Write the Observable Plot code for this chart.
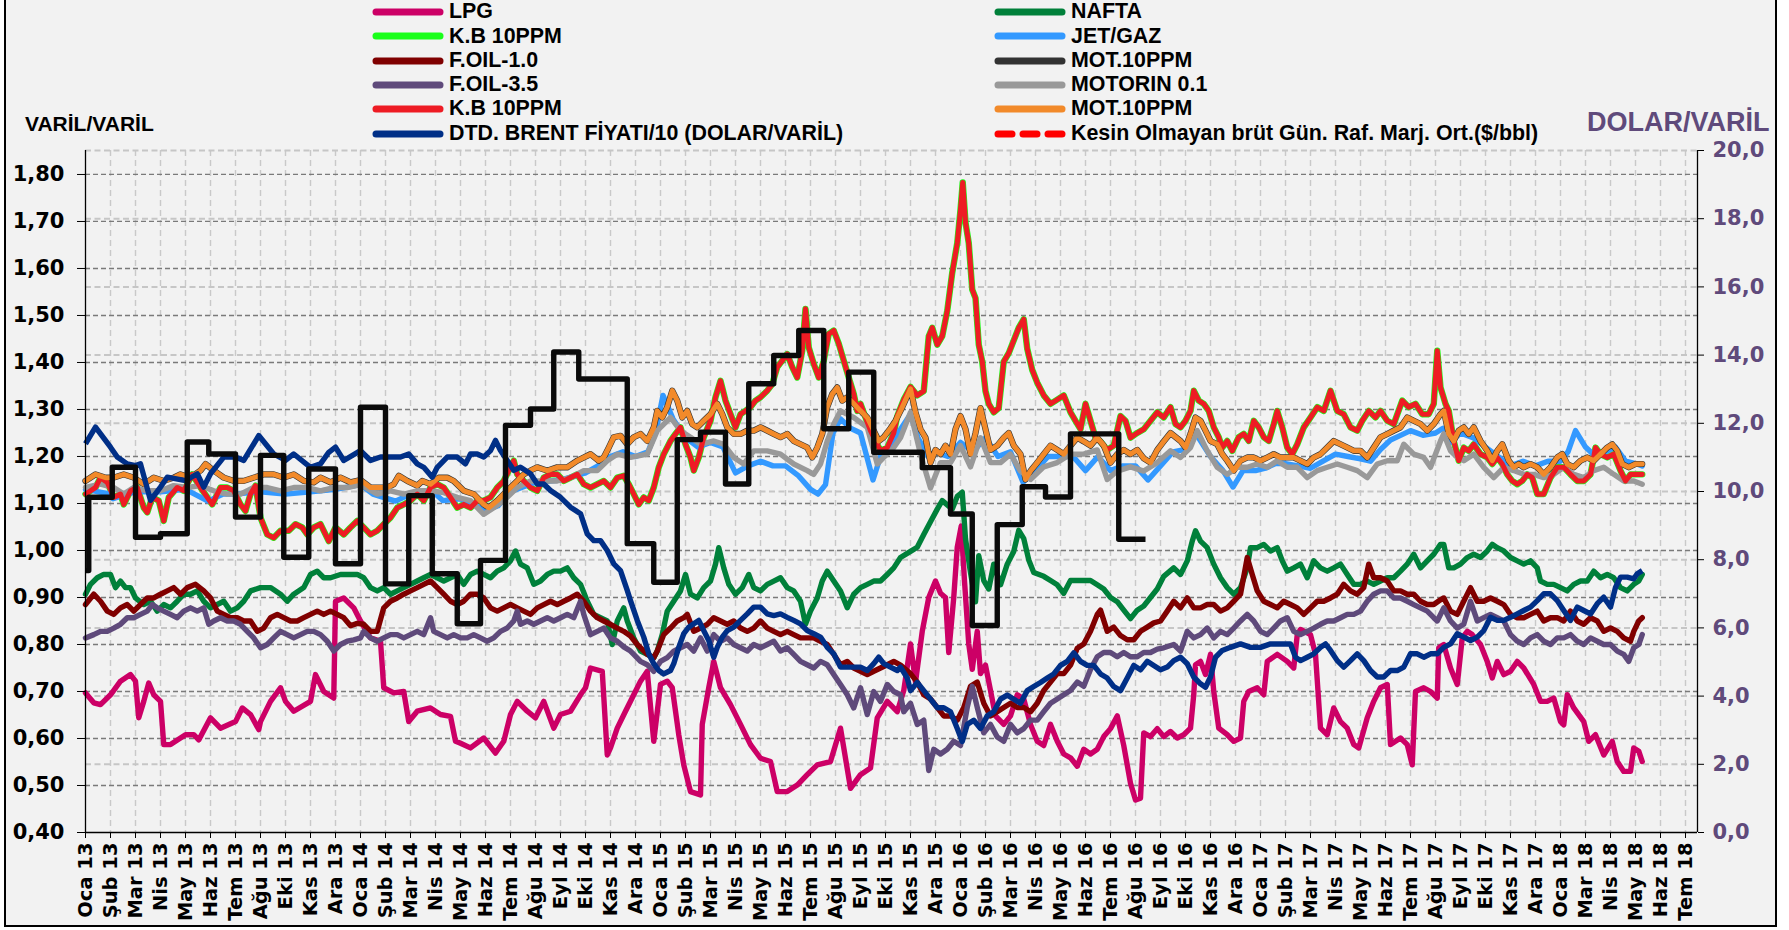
<!DOCTYPE html>
<html><head><meta charset="utf-8">
<script src="https://cdn.jsdelivr.net/npm/d3@7"></script>
<script src="https://cdn.jsdelivr.net/npm/@observablehq/plot@0.6"></script>
<style>
body{margin:0;background:#fff;}
#wrap{position:relative;width:1789px;height:930px;overflow:hidden;font-family:"DejaVu Sans",sans-serif;}
#frame{position:absolute;left:4px;top:-4px;width:1773px;height:931px;box-sizing:border-box;border:2px solid #000;background:#f2f2f2;}
#clip{position:absolute;left:0;top:0;width:1789px;height:925px;overflow:hidden;}
.lg{position:absolute;display:flex;align-items:center;font-family:"Liberation Sans Narrow","Arial Narrow",sans-serif;font-weight:bold;font-size:21.4px;color:#000;white-space:nowrap;line-height:1;}
.ttl{position:absolute;font-family:"Liberation Sans Narrow","Arial Narrow",sans-serif;font-weight:bold;white-space:nowrap;line-height:1;}
</style></head>
<body><div id="wrap"><div id="frame"></div><div id="clip"></div></div>
<script>
// ---------- tick labels ----------
const xLabels = ["Oca 13","Şub 13","Mar 13","Nis 13","May 13","Haz 13","Tem 13","Ağu 13","Eki 13","Kas 13","Ara 13",
"Oca 14","Şub 14","Mar 14","Nis 14","May 14","Haz 14","Tem 14","Ağu 14","Eyl 14","Eki 14","Kas 14","Ara 14",
"Oca 15","Şub 15","Mar 15","Nis 15","May 15","Haz 15","Tem 15","Ağu 15","Eyl 15","Eki 15","Kas 15","Ara 15",
"Oca 16","Şub 16","Mar 16","Nis 16","May 16","Haz 16","Tem 16","Ağu 16","Eyl 16","Eki 16","Kas 16","Ara 16",
"Oca 17","Şub 17","Mar 17","Nis 17","May 17","Haz 17","Tem 17","Ağu 17","Eyl 17","Eki 17","Kas 17","Ara 17",
"Oca 18","Mar 18","Nis 18","May 18","Haz 18","Tem 18"];
const leftTicks = [0.4,0.5,0.6,0.7,0.8,0.9,1.0,1.1,1.2,1.3,1.4,1.5,1.6,1.7,1.8];
const rightTicks = [0,2,4,6,8,10,12,14,16,18,20];

// ---------- series (x = position in tick-label units, value) ----------
const LPG = [[0,0.697],[0.33,0.676],[0.6,0.672],[1,0.693],[1.4,0.722],[1.8,0.736],[2,0.722],[2.13,0.644],[2.33,0.679],[2.53,0.718],[2.73,0.693],[3,0.679],[3.13,0.587],[3.4,0.587],[4,0.608],[4.33,0.608],[4.53,0.597],[5,0.644],[5.4,0.622],[6,0.636],[6.27,0.665],[6.6,0.651],[6.93,0.619],[7,0.636],[7.4,0.679],[7.8,0.708],[8,0.679],[8.33,0.658],[9,0.679],[9.2,0.736],[9.53,0.700],[9.93,0.686],[10,0.892],[10.33,0.899],[10.73,0.878],[11,0.85],[11.4,0.814],[11.8,0.807],[11.93,0.708],[12.33,0.697],[12.73,0.700],[12.93,0.636],[13.27,0.658],[13.8,0.665],[14.2,0.651],[14.6,0.647],[14.8,0.594],[15,0.590],[15.4,0.580],[15.93,0.601],[16.4,0.569],[16.73,0.594],[17,0.651],[17.27,0.679],[17.67,0.658],[18,0.644],[18.33,0.679],[18.73,0.622],[19,0.651],[19.4,0.658],[19.8,0.693],[20,0.708],[20.2,0.750],[20.67,0.743],[20.87,0.565],[21,0.580],[21.27,0.622],[21.6,0.658],[21.93,0.693],[22.2,0.722],[22.47,0.743],[22.73,0.594],[23,0.715],[23.27,0.722],[23.47,0.708],[23.73,0.608],[23.93,0.544],[24.2,0.487],[24.6,0.480],[24.67,0.630],[24.93,0.708],[25.13,0.764],[25.4,0.708],[25.8,0.672],[26.2,0.630],[26.6,0.587],[27,0.558],[27.4,0.551],[27.67,0.487],[28.07,0.487],[28.47,0.501],[28.87,0.523],[29.27,0.544],[29.8,0.551],[30.2,0.622],[30.6,0.494],[31,0.523],[31.4,0.537],[31.67,0.644],[32.07,0.679],[32.47,0.657],[32.73,0.702],[33,0.801],[33.2,0.720],[33.47,0.828],[33.73,0.900],[34,0.935],[34.2,0.909],[34.4,0.900],[34.53,0.783],[34.73,0.900],[34.87,1.007],[35.03,1.052],[35.16,0.935],[35.33,0.801],[35.47,0.747],[35.67,0.828],[35.8,0.738],[36,0.756],[36.2,0.702],[36.4,0.648],[36.73,0.630],[37,0.648],[37.27,0.693],[37.53,0.684],[37.8,0.630],[38.07,0.594],[38.33,0.585],[38.6,0.630],[38.87,0.594],[39.13,0.567],[39.4,0.559],[39.67,0.541],[39.93,0.577],[40.2,0.567],[40.47,0.577],[40.73,0.604],[41,0.621],[41.27,0.648],[41.53,0.585],[41.8,0.505],[42,0.469],[42.2,0.473],[42.33,0.612],[42.6,0.604],[42.87,0.621],[43.13,0.604],[43.4,0.615],[43.67,0.601],[43.93,0.608],[44.2,0.622],[44.33,0.693],[44.4,0.757],[44.6,0.764],[44.8,0.736],[45,0.779],[45.13,0.700],[45.33,0.622],[45.67,0.608],[45.93,0.594],[46.2,0.601],[46.33,0.679],[46.53,0.700],[46.87,0.708],[47.13,0.693],[47.27,0.764],[47.67,0.779],[48.07,0.764],[48.33,0.750],[48.47,0.821],[48.6,0.832],[49,0.821],[49.2,0.779],[49.4,0.622],[49.67,0.608],[49.93,0.665],[50.2,0.636],[50.47,0.622],[50.73,0.587],[50.93,0.580],[51.27,0.644],[51.53,0.679],[51.8,0.708],[52.07,0.715],[52.2,0.587],[52.6,0.601],[52.87,0.587],[53.07,0.544],[53.2,0.700],[53.53,0.708],[53.8,0.700],[54.07,0.686],[54.13,0.793],[54.33,0.800],[54.6,0.750],[54.87,0.715],[55.07,0.814],[55.27,0.828],[55.47,0.821],[55.8,0.800],[56.07,0.764],[56.27,0.729],[56.47,0.764],[56.73,0.736],[57,0.743],[57.27,0.764],[57.53,0.750],[57.93,0.715],[58.2,0.679],[58.47,0.679],[58.73,0.686],[59,0.636],[59.13,0.629],[59.27,0.693],[59.53,0.665],[59.93,0.636],[60.13,0.594],[60.4,0.608],[60.73,0.565],[61.07,0.594],[61.27,0.551],[61.53,0.530],[61.8,0.530],[61.93,0.580],[62.13,0.573],[62.27,0.551]];

const NAFTA = [[0,0.907],[0.2,0.928],[0.47,0.942],[0.73,0.949],[1,0.949],[1.2,0.921],[1.4,0.935],[1.6,0.921],[1.8,0.921],[2,0.899],[2.33,0.885],[2.6,0.892],[2.87,0.871],[3.13,0.885],[3.4,0.878],[3.67,0.892],[3.93,0.907],[4.2,0.907],[4.47,0.914],[4.73,0.892],[5,0.878],[5.27,0.885],[5.53,0.892],[5.8,0.871],[6.07,0.878],[6.33,0.892],[6.6,0.914],[7,0.921],[7.4,0.921],[7.8,0.907],[8.07,0.892],[8.33,0.907],[8.73,0.921],[9,0.949],[9.27,0.956],[9.53,0.942],[9.8,0.942],[10.2,0.949],[10.6,0.949],[10.87,0.949],[11.13,0.942],[11.4,0.921],[11.67,0.914],[11.93,0.921],[12.2,0.907],[12.47,0.914],[12.73,0.921],[13,0.928],[13.27,0.935],[13.53,0.942],[13.8,0.949],[14.07,0.942],[14.33,0.935],[14.6,0.942],[14.87,0.949],[15.13,0.928],[15.4,0.949],[15.67,0.956],[15.93,0.949],[16.2,0.942],[16.47,0.956],[16.73,0.963],[17,0.978],[17.2,0.999],[17.4,0.971],[17.67,0.963],[17.93,0.928],[18.2,0.935],[18.47,0.949],[18.73,0.956],[19,0.956],[19.27,0.963],[19.53,0.942],[19.8,0.928],[20.07,0.892],[20.33,0.864],[20.6,0.857],[20.87,0.850],[21.07,0.800],[21.27,0.850],[21.53,0.878],[21.67,0.850],[21.93,0.814],[22.2,0.786],[22.47,0.779],[22.73,0.772],[22.87,0.786],[23.07,0.821],[23.27,0.871],[23.53,0.892],[23.8,0.914],[24,0.949],[24.2,0.907],[24.47,0.899],[24.73,0.921],[25,0.935],[25.2,0.971],[25.33,1.006],[25.53,0.963],[25.73,0.928],[26,0.907],[26.27,0.921],[26.53,0.949],[26.73,0.921],[27,0.914],[27.27,0.928],[27.53,0.935],[27.8,0.942],[28.07,0.921],[28.33,0.914],[28.6,0.892],[28.8,0.843],[29,0.871],[29.27,0.899],[29.47,0.935],[29.67,0.956],[29.93,0.935],[30.2,0.914],[30.47,0.878],[30.73,0.907],[31,0.921],[31.27,0.928],[31.53,0.935],[31.8,0.935],[32.07,0.949],[32.33,0.963],[32.6,0.985],[33,0.998],[33.27,1.007],[33.53,1.034],[33.8,1.061],[34.07,1.088],[34.27,1.106],[34.47,1.097],[34.67,1.088],[34.87,1.115],[35.07,1.124],[35.2,1.025],[35.4,0.953],[35.6,0.891],[35.73,0.989],[35.93,0.936],[36.13,0.918],[36.33,0.971],[36.6,0.927],[36.87,0.971],[37.13,0.998],[37.33,1.043],[37.53,1.025],[37.73,0.980],[37.93,0.953],[38.33,0.945],[38.6,0.936],[38.87,0.927],[39.13,0.909],[39.4,0.936],[39.67,0.936],[39.93,0.936],[40.2,0.936],[40.47,0.927],[40.73,0.918],[41,0.900],[41.27,0.891],[41.53,0.873],[41.8,0.855],[42.07,0.873],[42.33,0.882],[42.6,0.900],[42.87,0.918],[43.13,0.945],[43.53,0.963],[43.8,0.949],[44.07,0.978],[44.27,1.020],[44.4,1.042],[44.6,1.020],[44.87,1.006],[45.13,0.971],[45.4,0.942],[45.67,0.921],[45.93,0.907],[46.2,0.921],[46.47,0.963],[46.6,1.006],[46.87,1.006],[47.13,1.013],[47.4,0.999],[47.67,1.006],[47.87,0.978],[48.07,0.956],[48.33,0.963],[48.6,0.971],[48.87,0.942],[49.13,0.978],[49.4,0.963],[49.67,0.956],[49.93,0.963],[50.2,0.971],[50.47,0.949],[50.73,0.928],[51,0.928],[51.27,0.935],[51.53,0.928],[51.8,0.935],[52.07,0.942],[52.33,0.942],[52.6,0.956],[52.87,0.971],[53.13,0.992],[53.4,0.963],[53.67,0.978],[53.93,0.992],[54.2,1.013],[54.33,1.013],[54.53,0.963],[54.73,0.963],[55,0.971],[55.27,0.985],[55.53,0.992],[55.8,0.985],[56.07,0.999],[56.27,1.013],[56.47,1.006],[56.73,0.999],[57,0.985],[57.27,0.978],[57.53,0.971],[57.8,0.978],[58.07,0.963],[58.2,0.935],[58.47,0.928],[58.73,0.928],[59,0.921],[59.27,0.914],[59.53,0.928],[59.8,0.935],[60.07,0.935],[60.33,0.956],[60.6,0.942],[60.87,0.949],[61.13,0.942],[61.4,0.921],[61.67,0.914],[61.93,0.928],[62.13,0.935],[62.27,0.949]];

const KB = [[0,1.120],[0.2,1.127],[0.4,1.134],[0.6,1.155],[0.87,1.145],[1.13,1.113],[1.4,1.120],[1.53,1.098],[1.8,1.127],[2.07,1.134],[2.33,1.091],[2.47,1.081],[2.67,1.113],[2.93,1.106],[3.13,1.063],[3.33,1.113],[3.67,1.134],[3.93,1.127],[4.27,1.162],[4.6,1.134],[4.87,1.113],[5.07,1.098],[5.4,1.134],[5.67,1.134],[5.93,1.127],[6.2,1.098],[6.4,1.084],[6.6,1.120],[6.8,1.138],[7,1.070],[7.27,1.034],[7.53,1.027],[7.8,1.042],[8.13,1.042],[8.4,1.056],[8.67,1.049],[8.87,1.034],[9.13,1.049],[9.4,1.056],[9.73,1.020],[10,1.049],[10.33,1.034],[10.6,1.049],[10.87,1.063],[11.13,1.049],[11.4,1.034],[11.67,1.042],[11.93,1.056],[12.2,1.070],[12.47,1.091],[12.73,1.098],[13,1.106],[13.27,1.120],[13.53,1.106],[13.8,1.134],[14.07,1.141],[14.33,1.134],[14.6,1.113],[14.87,1.091],[15.13,1.098],[15.4,1.091],[15.67,1.106],[15.93,1.106],[16.2,1.113],[16.47,1.134],[16.73,1.148],[16.93,1.170],[17.13,1.191],[17.27,1.162],[17.53,1.148],[17.8,1.134],[18.07,1.127],[18.33,1.155],[18.6,1.162],[18.87,1.162],[19.13,1.148],[19.4,1.155],[19.67,1.162],[19.93,1.141],[20.2,1.134],[20.47,1.141],[20.73,1.148],[21,1.134],[21.27,1.155],[21.53,1.159],[21.73,1.141],[21.93,1.120],[22.13,1.098],[22.33,1.113],[22.53,1.106],[22.73,1.134],[22.93,1.177],[23.13,1.205],[23.4,1.233],[23.6,1.248],[23.8,1.262],[24,1.226],[24.2,1.198],[24.33,1.170],[24.53,1.198],[24.73,1.241],[25,1.276],[25.2,1.326],[25.4,1.361],[25.6,1.319],[25.8,1.290],[26,1.262],[26.2,1.290],[26.4,1.297],[26.6,1.305],[26.8,1.319],[27,1.326],[27.27,1.340],[27.47,1.354],[27.67,1.390],[27.87,1.404],[28.07,1.418],[28.27,1.390],[28.47,1.368],[28.67,1.425],[28.8,1.514],[28.93,1.432],[29.13,1.397],[29.33,1.368],[29.53,1.404],[29.73,1.461],[29.93,1.468],[30.13,1.440],[30.33,1.404],[30.53,1.368],[30.73,1.333],[30.87,1.297],[31,1.312],[31.2,1.283],[31.4,1.255],[31.6,1.233],[31.8,1.212],[32.07,1.219],[32.33,1.250],[32.47,1.286],[32.73,1.321],[33,1.348],[33.27,1.330],[33.53,1.339],[33.73,1.456],[33.87,1.474],[34.07,1.438],[34.27,1.456],[34.47,1.510],[34.67,1.591],[34.87,1.654],[35,1.725],[35.09,1.783],[35.2,1.698],[35.33,1.654],[35.47,1.555],[35.6,1.537],[35.73,1.438],[35.87,1.402],[36,1.339],[36.13,1.312],[36.33,1.294],[36.53,1.303],[36.73,1.402],[36.93,1.420],[37.13,1.447],[37.33,1.474],[37.53,1.492],[37.67,1.429],[37.87,1.384],[38.07,1.357],[38.33,1.330],[38.6,1.312],[38.87,1.321],[39.13,1.330],[39.4,1.294],[39.6,1.276],[39.8,1.258],[40,1.312],[40.2,1.276],[40.4,1.240],[40.6,1.232],[40.87,1.214],[41.13,1.223],[41.4,1.286],[41.6,1.276],[41.8,1.240],[42.07,1.250],[42.33,1.258],[42.6,1.276],[42.87,1.294],[43.13,1.283],[43.4,1.305],[43.6,1.269],[43.8,1.262],[44,1.276],[44.2,1.297],[44.33,1.340],[44.53,1.319],[44.73,1.312],[44.93,1.297],[45.13,1.262],[45.33,1.241],[45.47,1.219],[45.67,1.233],[45.87,1.212],[46.13,1.241],[46.33,1.248],[46.53,1.233],[46.73,1.276],[46.93,1.262],[47.13,1.241],[47.33,1.233],[47.53,1.269],[47.67,1.297],[47.87,1.262],[48.07,1.219],[48.27,1.205],[48.47,1.226],[48.73,1.262],[49,1.283],[49.27,1.305],[49.53,1.297],[49.8,1.340],[50.07,1.297],[50.33,1.290],[50.6,1.262],[50.87,1.255],[51.07,1.276],[51.33,1.297],[51.6,1.283],[51.8,1.297],[52.07,1.276],[52.33,1.269],[52.67,1.319],[52.93,1.305],[53.2,1.312],[53.47,1.290],[53.73,1.290],[53.93,1.312],[54.07,1.425],[54.2,1.347],[54.4,1.312],[54.53,1.297],[54.73,1.233],[54.93,1.191],[55.13,1.219],[55.33,1.212],[55.53,1.226],[55.8,1.205],[56.07,1.198],[56.27,1.184],[56.47,1.198],[56.67,1.184],[56.87,1.162],[57.07,1.148],[57.27,1.141],[57.47,1.148],[57.67,1.162],[57.87,1.155],[58.07,1.120],[58.33,1.120],[58.6,1.155],[58.87,1.177],[59.13,1.177],[59.4,1.162],[59.67,1.148],[59.93,1.148],[60.2,1.162],[60.4,1.219],[60.6,1.205],[60.87,1.198],[61.13,1.205],[61.4,1.170],[61.6,1.148],[61.8,1.162],[62.07,1.162],[62.27,1.162]];

const JET = [[0,1.13],[1,1.12],[1.1,1.11],[2,1.125],[3,1.125],[4,1.13],[4.9,1.105],[5.5,1.12],[6,1.12],[7,1.125],[8,1.12],[9,1.125],[10,1.13],[11,1.14],[11.5,1.12],[12.4,1.105],[13,1.12],[14,1.12],[14.3,1.106],[15,1.11],[16,1.085],[16.5,1.095],[17,1.125],[18,1.145],[19,1.15],[20,1.165],[20.5,1.18],[21,1.20],[21.5,1.21],[22,1.20],[22.5,1.21],[22.8,1.25],[23.1,1.33],[23.5,1.28],[24,1.24],[24.5,1.22],[25,1.23],[25.5,1.22],[26,1.165],[26.5,1.18],[27,1.19],[27.5,1.18],[28,1.18],[28.5,1.16],[29,1.13],[29.3,1.12],[29.6,1.14],[29.9,1.25],[30.2,1.28],[30.6,1.26],[31,1.25],[31.5,1.15],[31.8,1.2],[32.2,1.22],[32.5,1.25],[33,1.29],[33.3,1.24],[33.7,1.2],[34,1.21],[34.5,1.2],[35,1.23],[35.5,1.21],[36,1.24],[36.5,1.2],[37,1.21],[37.5,1.145],[38,1.17],[38.5,1.2],[39,1.2],[39.5,1.2],[40,1.17],[40.5,1.2],[41,1.17],[41.5,1.18],[42,1.18],[42.5,1.15],[43,1.18],[43.5,1.21],[44,1.215],[44.4,1.25],[45,1.2],[45.5,1.17],[45.9,1.135],[46.3,1.17],[46.8,1.17],[47.2,1.175],[47.6,1.185],[48,1.185],[48.5,1.18],[49,1.175],[49.5,1.19],[50,1.205],[50.5,1.20],[51,1.195],[51.4,1.19],[51.8,1.215],[52.2,1.235],[52.6,1.245],[53,1.255],[53.5,1.245],[54,1.25],[54.3,1.26],[54.6,1.23],[55,1.25],[55.5,1.24],[56,1.22],[56.5,1.2],[57,1.18],[57.5,1.19],[58,1.18],[58.5,1.19],[59,1.19],[59.3,1.21],[59.6,1.255],[60,1.22],[60.4,1.2],[60.8,1.21],[61.2,1.22],[61.6,1.19],[62,1.185],[62.27,1.18]];

const FOIL10 = [[0,0.885],[0.33,0.907],[0.6,0.892],[0.87,0.871],[1.13,0.864],[1.4,0.878],[1.67,0.885],[1.93,0.871],[2.2,0.885],[2.47,0.899],[2.73,0.899],[3,0.907],[3.27,0.914],[3.53,0.921],[3.8,0.907],[4.07,0.921],[4.4,0.928],[4.73,0.914],[5,0.899],[5.27,0.871],[5.53,0.864],[5.8,0.857],[6.07,0.857],[6.33,0.850],[6.6,0.850],[6.87,0.828],[7.13,0.835],[7.4,0.857],[7.67,0.864],[7.93,0.857],[8.2,0.850],[8.47,0.850],[8.73,0.857],[9,0.864],[9.27,0.871],[9.53,0.864],[9.8,0.871],[10.07,0.864],[10.33,0.857],[10.6,0.840],[10.87,0.845],[11.13,0.843],[11.4,0.828],[11.67,0.828],[11.93,0.878],[12.2,0.892],[12.47,0.899],[12.73,0.907],[13,0.914],[13.27,0.921],[13.53,0.928],[13.8,0.935],[14.07,0.921],[14.33,0.907],[14.6,0.892],[14.87,0.885],[15.13,0.892],[15.4,0.907],[15.67,0.907],[15.93,0.899],[16.2,0.878],[16.47,0.871],[16.73,0.878],[17,0.885],[17.27,0.878],[17.53,0.871],[17.8,0.864],[18.07,0.878],[18.33,0.885],[18.6,0.892],[18.87,0.885],[19.13,0.892],[19.4,0.899],[19.67,0.907],[19.93,0.892],[20.2,0.871],[20.47,0.857],[20.73,0.850],[21,0.843],[21.27,0.835],[21.53,0.828],[21.8,0.818],[22.07,0.800],[22.47,0.779],[22.73,0.772],[22.87,0.786],[23.13,0.821],[23.4,0.835],[23.67,0.850],[23.93,0.857],[24.07,0.864],[24.33,0.828],[24.6,0.835],[24.87,0.843],[25.13,0.857],[25.4,0.850],[25.67,0.843],[25.93,0.850],[26.2,0.835],[26.47,0.828],[26.73,0.835],[27,0.850],[27.27,0.835],[27.53,0.828],[27.8,0.821],[28.07,0.828],[28.33,0.821],[28.6,0.814],[28.87,0.814],[29.13,0.814],[29.4,0.807],[29.67,0.800],[29.93,0.779],[30.2,0.757],[30.47,0.764],[30.73,0.750],[31,0.743],[31.27,0.736],[31.53,0.743],[31.8,0.750],[32.07,0.757],[32.33,0.764],[32.6,0.756],[33,0.738],[33.27,0.720],[33.53,0.693],[33.8,0.684],[34.07,0.666],[34.33,0.648],[34.6,0.648],[34.87,0.639],[35.13,0.666],[35.4,0.711],[35.67,0.720],[35.93,0.675],[36.2,0.648],[36.47,0.657],[36.73,0.666],[37,0.675],[37.27,0.666],[37.53,0.666],[37.8,0.657],[38.07,0.675],[38.33,0.702],[38.6,0.720],[38.87,0.738],[39.13,0.738],[39.4,0.756],[39.67,0.792],[39.93,0.801],[40.2,0.828],[40.47,0.864],[40.6,0.873],[40.87,0.828],[41.13,0.837],[41.4,0.819],[41.67,0.810],[41.93,0.810],[42.2,0.828],[42.47,0.837],[42.73,0.846],[43,0.850],[43.27,0.871],[43.53,0.892],[43.8,0.878],[44.07,0.899],[44.33,0.878],[44.6,0.878],[44.87,0.885],[45.13,0.885],[45.4,0.871],[45.67,0.878],[45.93,0.892],[46.2,0.907],[46.47,0.985],[46.67,0.949],[46.87,0.914],[47.13,0.892],[47.4,0.885],[47.67,0.878],[47.93,0.892],[48.2,0.885],[48.47,0.878],[48.73,0.864],[49,0.878],[49.27,0.892],[49.53,0.892],[49.8,0.899],[50.07,0.907],[50.33,0.928],[50.6,0.914],[50.87,0.907],[51.13,0.921],[51.33,0.971],[51.53,0.942],[51.8,0.942],[52.07,0.935],[52.33,0.914],[52.6,0.914],[52.87,0.907],[53.13,0.907],[53.4,0.892],[53.67,0.885],[53.93,0.885],[54.2,0.895],[54.33,0.899],[54.6,0.871],[54.87,0.864],[55.13,0.892],[55.4,0.921],[55.67,0.892],[55.93,0.892],[56.2,0.899],[56.47,0.892],[56.73,0.885],[57,0.864],[57.27,0.857],[57.53,0.857],[57.8,0.864],[58.07,0.871],[58.33,0.850],[58.6,0.857],[58.87,0.857],[59.13,0.850],[59.4,0.871],[59.67,0.850],[59.93,0.843],[60.2,0.857],[60.47,0.850],[60.73,0.828],[61,0.835],[61.27,0.828],[61.53,0.814],[61.8,0.807],[61.93,0.828],[62.13,0.850],[62.27,0.857]];

const FOIL35 = [[0,0.814],[0.33,0.821],[0.6,0.828],[0.87,0.828],[1.13,0.835],[1.4,0.843],[1.67,0.857],[1.93,0.857],[2.2,0.864],[2.47,0.871],[2.67,0.885],[2.87,0.878],[3.13,0.871],[3.4,0.864],[3.67,0.857],[3.93,0.871],[4.2,0.878],[4.47,0.871],[4.73,0.878],[4.93,0.843],[5.13,0.850],[5.4,0.857],[5.67,0.850],[5.93,0.850],[6.2,0.843],[6.47,0.828],[6.73,0.814],[7,0.793],[7.27,0.800],[7.53,0.814],[7.8,0.828],[8.07,0.821],[8.33,0.814],[8.6,0.821],[8.87,0.828],[9.13,0.828],[9.4,0.821],[9.67,0.807],[9.93,0.786],[10.2,0.800],[10.47,0.807],[10.73,0.810],[11,0.814],[11.13,0.828],[11.4,0.814],[11.67,0.807],[11.93,0.814],[12.2,0.821],[12.47,0.821],[12.73,0.814],[13,0.821],[13.27,0.828],[13.53,0.821],[13.8,0.857],[13.93,0.828],[14.2,0.821],[14.47,0.814],[14.73,0.821],[15,0.814],[15.27,0.814],[15.53,0.821],[15.8,0.814],[16.07,0.807],[16.33,0.814],[16.6,0.828],[16.87,0.835],[17.13,0.850],[17.27,0.871],[17.4,0.843],[17.67,0.850],[17.93,0.843],[18.2,0.850],[18.47,0.857],[18.73,0.850],[19,0.857],[19.27,0.864],[19.53,0.857],[19.8,0.892],[19.93,0.864],[20.2,0.821],[20.47,0.828],[20.73,0.835],[21,0.814],[21.27,0.807],[21.53,0.795],[21.8,0.786],[21.93,0.779],[22.2,0.764],[22.47,0.757],[22.73,0.743],[23,0.764],[23.27,0.772],[23.53,0.786],[23.8,0.793],[24.07,0.800],[24.33,0.786],[24.6,0.814],[24.87,0.786],[25.13,0.821],[25.4,0.807],[25.67,0.814],[25.93,0.800],[26.2,0.793],[26.47,0.786],[26.73,0.800],[27,0.793],[27.27,0.800],[27.53,0.807],[27.8,0.786],[28.07,0.793],[28.33,0.779],[28.6,0.764],[28.87,0.757],[29.13,0.750],[29.4,0.764],[29.67,0.757],[29.93,0.736],[30.2,0.715],[30.47,0.693],[30.73,0.665],[31,0.708],[31.27,0.651],[31.53,0.700],[31.8,0.679],[32.07,0.715],[32.33,0.700],[32.6,0.693],[32.73,0.657],[33,0.675],[33.27,0.630],[33.53,0.639],[33.73,0.532],[33.93,0.577],[34.2,0.567],[34.47,0.577],[34.73,0.594],[35,0.585],[35.27,0.666],[35.47,0.711],[35.67,0.666],[35.93,0.612],[36.2,0.630],[36.47,0.603],[36.73,0.594],[37,0.630],[37.27,0.612],[37.53,0.621],[37.8,0.639],[38.07,0.639],[38.33,0.657],[38.6,0.675],[38.87,0.684],[39.13,0.693],[39.4,0.702],[39.67,0.720],[39.93,0.711],[40.2,0.747],[40.47,0.774],[40.73,0.783],[41,0.783],[41.27,0.774],[41.53,0.783],[41.8,0.774],[42.07,0.774],[42.33,0.783],[42.6,0.783],[42.87,0.790],[43.13,0.793],[43.53,0.800],[43.8,0.786],[44.07,0.828],[44.33,0.814],[44.6,0.821],[44.87,0.835],[45.13,0.814],[45.4,0.828],[45.67,0.821],[45.93,0.835],[46.2,0.850],[46.47,0.864],[46.73,0.850],[47,0.828],[47.27,0.821],[47.53,0.835],[47.8,0.850],[48.07,0.857],[48.33,0.828],[48.6,0.821],[48.87,0.828],[49.13,0.835],[49.4,0.843],[49.67,0.850],[49.93,0.850],[50.2,0.857],[50.47,0.864],[50.73,0.864],[51,0.871],[51.27,0.892],[51.53,0.907],[51.8,0.914],[52.07,0.914],[52.33,0.899],[52.6,0.899],[52.87,0.892],[53.13,0.885],[53.4,0.878],[53.67,0.871],[53.93,0.857],[54.07,0.850],[54.33,0.878],[54.6,0.850],[54.87,0.835],[55.13,0.843],[55.4,0.892],[55.67,0.850],[55.93,0.857],[56.2,0.864],[56.47,0.857],[56.73,0.850],[57,0.821],[57.27,0.807],[57.53,0.800],[57.8,0.814],[58.07,0.821],[58.33,0.807],[58.6,0.800],[58.87,0.814],[59.13,0.814],[59.4,0.821],[59.67,0.807],[59.93,0.800],[60.2,0.814],[60.47,0.807],[60.73,0.800],[61,0.800],[61.27,0.786],[61.53,0.779],[61.73,0.764],[61.93,0.793],[62.13,0.800],[62.27,0.821]];

const MOTORIN01 = [[0,1.134],[0.6,1.141],[1.13,1.134],[1.53,1.120],[1.93,1.134],[2.47,1.127],[3,1.127],[3.53,1.138],[4.07,1.134],[4.6,1.138],[5.13,1.127],[5.67,1.120],[6.2,1.120],[6.73,1.134],[7.27,1.134],[7.8,1.127],[8.33,1.134],[8.87,1.134],[9.4,1.127],[9.93,1.134],[10.47,1.134],[11,1.140],[11.67,1.120],[12.2,1.127],[12.73,1.120],[13.27,1.127],[13.8,1.127],[14.33,1.123],[14.87,1.113],[15.4,1.106],[15.93,1.077],[16.33,1.091],[16.73,1.106],[17.27,1.134],[17.8,1.148],[18.33,1.148],[18.87,1.148],[19.4,1.155],[19.93,1.170],[20.47,1.170],[20.87,1.191],[21.27,1.205],[21.8,1.198],[22.47,1.205],[22.87,1.255],[23.4,1.283],[23.8,1.255],[24.2,1.241],[24.6,1.226],[25.13,1.233],[25.53,1.226],[25.93,1.198],[26.33,1.184],[26.73,1.212],[27.27,1.212],[27.8,1.205],[28.33,1.184],[28.87,1.170],[29.13,1.162],[29.4,1.184],[29.67,1.233],[29.93,1.269],[30.2,1.297],[30.73,1.283],[31.27,1.262],[31.67,1.184],[31.93,1.198],[32.33,1.219],[32.6,1.240],[33,1.294],[33.4,1.205],[33.8,1.133],[34.2,1.187],[34.6,1.187],[35,1.223],[35.4,1.178],[35.8,1.240],[36.2,1.187],[36.6,1.187],[37,1.205],[37.4,1.169],[37.8,1.151],[38.33,1.178],[38.87,1.187],[39.4,1.205],[39.93,1.205],[40.47,1.214],[40.87,1.151],[41.27,1.169],[41.8,1.178],[42.33,1.169],[42.87,1.187],[43.4,1.212],[43.8,1.198],[44.2,1.219],[44.47,1.255],[44.87,1.212],[45.27,1.177],[45.67,1.162],[46.07,1.177],[46.47,1.177],[46.87,1.184],[47.27,1.177],[47.67,1.191],[48.07,1.177],[48.47,1.177],[48.87,1.155],[49.27,1.170],[49.67,1.177],[50.07,1.184],[50.47,1.177],[50.87,1.170],[51.27,1.155],[51.67,1.184],[52.07,1.191],[52.47,1.191],[52.73,1.226],[53.13,1.205],[53.53,1.198],[53.8,1.177],[54.2,1.233],[54.33,1.248],[54.6,1.212],[54.87,1.198],[55.13,1.191],[55.53,1.205],[55.93,1.177],[56.33,1.155],[56.73,1.177],[57.13,1.170],[57.53,1.162],[57.93,1.162],[58.33,1.155],[58.73,1.162],[59.13,1.177],[59.53,1.162],[59.93,1.155],[60.33,1.170],[60.73,1.177],[61.13,1.162],[61.53,1.148],[61.93,1.148],[62.27,1.141]];

const MOT10 = [[0,1.148],[0.4,1.162],[0.8,1.155],[1.13,1.155],[1.53,1.162],[1.93,1.155],[2.33,1.141],[2.73,1.155],[3.13,1.148],[3.53,1.155],[3.8,1.162],[4.2,1.155],[4.6,1.170],[4.8,1.184],[5.13,1.170],[5.53,1.155],[5.93,1.148],[6.33,1.148],[6.73,1.155],[7.13,1.162],[7.53,1.162],[7.93,1.155],[8.33,1.162],[8.73,1.148],[9.13,1.145],[9.4,1.155],[9.8,1.145],[10.2,1.155],[10.6,1.145],[11,1.150],[11.4,1.134],[11.8,1.134],[12.07,1.134],[12.33,1.141],[12.53,1.159],[12.87,1.148],[13.27,1.138],[13.47,1.148],[13.8,1.141],[14.13,1.155],[14.47,1.155],[14.73,1.148],[15.13,1.127],[15.53,1.120],[15.93,1.098],[16.13,1.091],[16.47,1.106],[16.73,1.120],[17,1.134],[17.27,1.148],[17.53,1.162],[17.8,1.170],[18.07,1.177],[18.47,1.170],[18.87,1.177],[19.27,1.177],[19.67,1.191],[19.93,1.198],[20.2,1.205],[20.53,1.191],[20.73,1.198],[20.93,1.219],[21.13,1.241],[21.4,1.244],[21.67,1.226],[21.93,1.241],[22.2,1.248],[22.47,1.233],[22.73,1.262],[22.87,1.297],[23.07,1.283],[23.27,1.305],[23.47,1.340],[23.67,1.319],[23.87,1.283],[24.07,1.297],[24.27,1.269],[24.47,1.262],[24.73,1.276],[25,1.290],[25.27,1.312],[25.47,1.290],[25.67,1.262],[25.93,1.248],[26.2,1.248],[26.47,1.255],[26.73,1.255],[27,1.262],[27.27,1.255],[27.53,1.248],[27.8,1.241],[28.07,1.248],[28.33,1.233],[28.6,1.226],[28.87,1.219],[29.07,1.198],[29.27,1.219],[29.47,1.248],[29.67,1.305],[29.87,1.333],[30.07,1.347],[30.27,1.319],[30.47,1.326],[30.73,1.312],[31,1.297],[31.27,1.283],[31.53,1.255],[31.73,1.233],[31.93,1.241],[32.2,1.260],[32.4,1.276],[32.6,1.297],[32.73,1.312],[33,1.344],[33.2,1.294],[33.4,1.258],[33.6,1.240],[33.8,1.187],[34,1.214],[34.2,1.205],[34.4,1.223],[34.6,1.205],[34.8,1.258],[35,1.286],[35.2,1.258],[35.4,1.205],[35.6,1.250],[35.8,1.303],[36,1.258],[36.2,1.214],[36.47,1.223],[36.73,1.240],[36.93,1.250],[37.13,1.223],[37.4,1.205],[37.6,1.151],[37.8,1.169],[38.07,1.187],[38.33,1.205],[38.6,1.223],[38.87,1.214],[39.13,1.205],[39.4,1.223],[39.67,1.240],[39.93,1.232],[40.2,1.223],[40.47,1.240],[40.73,1.223],[41,1.187],[41.27,1.205],[41.53,1.214],[41.8,1.205],[42.07,1.214],[42.33,1.196],[42.6,1.187],[42.87,1.214],[43.13,1.232],[43.4,1.250],[43.8,1.233],[44,1.219],[44.2,1.248],[44.4,1.283],[44.6,1.276],[44.8,1.255],[45,1.233],[45.27,1.226],[45.47,1.205],[45.67,1.191],[45.93,1.170],[46.2,1.191],[46.47,1.198],[46.73,1.198],[47,1.191],[47.27,1.198],[47.53,1.205],[47.8,1.198],[48.07,1.198],[48.33,1.198],[48.6,1.191],[48.87,1.184],[49.13,1.198],[49.4,1.205],[49.67,1.219],[49.93,1.233],[50.2,1.226],[50.47,1.219],[50.73,1.212],[51,1.212],[51.27,1.198],[51.53,1.219],[51.8,1.241],[52.07,1.248],[52.33,1.255],[52.6,1.262],[52.87,1.283],[53.13,1.276],[53.4,1.269],[53.67,1.255],[53.93,1.269],[54.2,1.290],[54.33,1.297],[54.53,1.248],[54.73,1.233],[54.93,1.255],[55.13,1.262],[55.33,1.248],[55.53,1.262],[55.8,1.233],[56.07,1.212],[56.27,1.191],[56.47,1.212],[56.67,1.226],[56.93,1.191],[57.13,1.177],[57.33,1.184],[57.53,1.177],[57.8,1.184],[58.07,1.177],[58.33,1.162],[58.6,1.177],[58.87,1.198],[59.07,1.205],[59.27,1.184],[59.53,1.177],[59.8,1.191],[60.07,1.198],[60.33,1.191],[60.6,1.205],[60.87,1.219],[61.07,1.226],[61.27,1.212],[61.47,1.184],[61.73,1.177],[62,1.184],[62.27,1.184]];

// right axis (DOLAR/VARİL)
const BRENT10 = [[0,11.40],[0.4,11.89],[1,11.30],[1.27,11.01],[1.67,10.81],[2,10.76],[2.2,10.81],[2.6,9.74],[3,10.13],[3.27,10.42],[4,10.32],[4.47,10.52],[4.73,10.13],[5,10.52],[5.53,11.01],[6,11.01],[6.33,10.91],[6.93,11.64],[7.53,11.10],[8,10.91],[8.33,11.10],[9,10.71],[9.4,10.81],[9.73,11.15],[10,11.30],[10.33,10.91],[11,11.20],[11.4,10.91],[11.8,11.01],[12.2,11.01],[12.6,11.01],[12.93,11.10],[13.27,10.81],[13.53,10.71],[13.87,10.42],[14.07,10.71],[14.47,11.01],[14.87,11.01],[15.2,10.81],[15.4,11.10],[15.67,11.10],[15.93,11.01],[16.2,11.20],[16.4,11.50],[16.6,11.20],[16.87,10.91],[17.13,10.62],[17.4,10.71],[17.8,10.52],[18.07,10.22],[18.33,10.22],[18.6,10.03],[19,9.83],[19.4,9.54],[19.8,9.35],[20.07,8.76],[20.33,8.56],[20.6,8.56],[20.87,8.27],[21.13,7.88],[21.4,7.68],[21.67,7.10],[21.8,6.80],[22.07,6.22],[22.33,5.73],[22.53,5.24],[22.73,4.95],[22.93,4.75],[23.13,4.65],[23.4,4.75],[23.53,4.95],[23.73,5.43],[23.93,5.83],[24.13,6.02],[24.33,6.12],[24.53,6.22],[24.73,5.92],[24.93,5.63],[25.13,5.14],[25.27,5.43],[25.47,5.73],[25.67,5.92],[25.93,6.02],[26.2,6.22],[26.47,6.41],[26.73,6.61],[27,6.61],[27.27,6.41],[27.53,6.36],[27.8,6.41],[28.07,6.31],[28.33,6.22],[28.6,6.12],[28.87,5.92],[29.13,5.83],[29.4,5.73],[29.67,5.43],[29.93,5.24],[30.2,4.85],[30.47,4.85],[30.73,4.85],[31,4.85],[31.27,4.75],[31.53,4.95],[31.73,5.14],[31.93,4.95],[32.2,4.85],[32.47,4.75],[32.6,4.85],[32.87,4.53],[33,4.16],[33.27,4.40],[33.53,4.16],[33.8,3.91],[34.07,3.66],[34.33,3.66],[34.6,3.54],[34.87,3.05],[35.07,2.67],[35.27,3.17],[35.53,3.29],[35.8,3.05],[36.07,3.42],[36.33,3.54],[36.6,3.91],[36.87,4.03],[37.13,3.91],[37.4,3.79],[37.67,4.16],[37.93,4.28],[38.2,4.40],[38.47,4.53],[38.73,4.65],[39,4.90],[39.27,5.02],[39.53,5.27],[39.8,5.02],[40.07,4.90],[40.33,4.90],[40.6,4.65],[40.87,4.53],[41.13,4.28],[41.4,4.16],[41.67,4.53],[41.93,4.90],[42.2,4.77],[42.47,5.02],[42.73,4.90],[43,4.77],[43.27,4.85],[43.53,5.04],[43.8,5.14],[44.07,4.95],[44.33,4.56],[44.6,4.36],[44.8,4.26],[45,4.56],[45.2,5.14],[45.47,5.34],[45.8,5.43],[46.2,5.53],[46.6,5.43],[47,5.43],[47.4,5.53],[47.8,5.53],[48.2,5.53],[48.4,5.14],[48.6,5.04],[48.87,5.14],[49.13,5.24],[49.4,5.43],[49.6,5.53],[49.8,5.34],[50.07,5.04],[50.33,4.85],[50.6,5.04],[50.87,5.24],[51.13,5.04],[51.4,4.75],[51.67,4.56],[51.93,4.56],[52.2,4.75],[52.47,4.75],[52.73,4.85],[53,5.24],[53.27,5.24],[53.53,5.14],[53.8,5.24],[54.07,5.24],[54.33,5.43],[54.6,5.53],[54.87,5.83],[55.13,5.73],[55.4,5.63],[55.67,5.73],[55.93,5.92],[56.2,6.31],[56.47,6.22],[56.73,6.22],[57,6.31],[57.27,6.41],[57.53,6.51],[57.8,6.61],[58.07,6.80],[58.33,7.00],[58.6,7.00],[58.87,6.80],[59.13,6.51],[59.4,6.22],[59.67,6.61],[59.93,6.51],[60.2,6.41],[60.47,6.71],[60.73,6.90],[61,6.61],[61.2,7.19],[61.4,7.49],[61.67,7.49],[61.93,7.44],[62.07,7.59],[62.27,7.68]];

const MARGIN = [[0,7.68],[0.13,9.83],[1.07,10.71],[2.0,8.66],[3.0,8.76],[4.07,11.45],[4.93,11.10],[6.0,9.25],[7.0,11.06],[7.93,8.07],[8.93,10.66],[10.0,7.88],[11.0,12.47],[12.0,7.29],[12.93,9.88],[13.87,7.59],[14.87,6.12],[15.8,7.98],[16.8,11.94],[17.8,12.42],[18.73,14.09],[19.73,13.30],[21.67,8.47],[22.73,7.34],[23.67,11.52],[24.6,11.74],[25.6,10.22],[26.53,13.16],[27.53,13.99],[28.53,14.72],[29.53,11.84],[30.53,13.50],[31.53,11.15],[33.47,10.70],[34.6,9.34],[35.47,6.07],[36.47,9.03],[37.47,10.14],[38.4,9.84],[39.4,11.69],[41.33,8.60],[42.4,8.60]];

// ---------- legend ----------
const legendLeft = [["LPG","#cc0066","solid"],["K.B 10PPM","#1aff1a","solid"],["F.OIL-1.0","#800000","solid"],["F.OIL-3.5","#5f4a7b","solid"],["K.B 10PPM","#ee1c24","solid"],["DTD. BRENT FİYATI/10 (DOLAR/VARİL)","#002f87","solid"]];
const legendRight = [["NAFTA","#00803a","solid"],["JET/GAZ","#3399ff","solid"],["MOT.10PPM","#333333","solid"],["MOTORIN 0.1","#999999","solid"],["MOT.10PPM","#f28a2a","solid"],["Kesin Olmayan brüt Gün. Raf. Marj. Ort.($/bbl)","#ff0000","dash"]];

// ---------- scales ----------
const X_MAX = 64.48, Y_MIN = 0.4, Y_MAX = 1.851, R_MAX = 20;
const K = (Y_MAX - Y_MIN) / R_MAX;
const toLeft = r => Y_MIN + r * K;
const comma = (v, d) => v.toFixed(d).replace(".", ",");

const ln = (data, stroke, w, extra = {}) => Plot.line(data, {x: d => d[0], y: d => d[1], stroke, strokeWidth: w, strokeLinejoin: "round", strokeLinecap: "round", ...extra});
const lnR = (data, stroke, w, extra = {}) => Plot.line(data, {x: d => d[0], y: d => toLeft(d[1]), stroke, strokeWidth: w, strokeLinejoin: "round", strokeLinecap: "butt", ...extra});

const chart = Plot.plot({
  width: 1789, height: 925,
  marginLeft: 85, marginRight: 92, marginTop: 150, marginBottom: 93,
  style: {background: "transparent", fontFamily: "DejaVu Sans, sans-serif", overflow: "visible"},
  x: {domain: [0, X_MAX]},
  y: {domain: [Y_MIN, Y_MAX]},
  marks: [
    Plot.ruleX(d3.range(1, 65), {stroke: "#c9c9c9", strokeWidth: 1.4, strokeDasharray: "6,4"}),
    Plot.ruleY(rightTicks.slice(1).map(toLeft), {stroke: "#c6c6c6", strokeWidth: 2, strokeDasharray: "6,3.5"}),
    Plot.ruleY(leftTicks.slice(1), {stroke: "#7a7a7a", strokeWidth: 1.3, strokeDasharray: "5,3"}),
    ln(LPG, "#cc0066", 5.4),
    ln(NAFTA, "#00803a", 5.4),
    ln(KB, "#1aff1a", 6.4),
    ln(JET, "#3399ff", 5.4),
    ln(FOIL10, "#800000", 5.4),
    ln(MOT10, "#333333", 6.2),
    ln(FOIL35, "#5f4a7b", 5.4),
    ln(MOTORIN01, "#999999", 5.4),
    ln(KB, "#ee1c24", 5.1),
    ln(MOT10, "#f28a2a", 5.0),
    lnR(BRENT10, "#002f87", 5.4),
    lnR(MARGIN, "#0a0a0a", 5.4, {curve: "step-after"}),
    Plot.ruleX([0], {stroke: "#000", strokeWidth: 1.3}),
    Plot.ruleX([X_MAX], {stroke: "#000", strokeWidth: 1.3}),
    Plot.ruleY([Y_MIN], {stroke: "#000", strokeWidth: 1.3}),
    Plot.axisY(leftTicks, {anchor: "left", tickSize: 8, tickPadding: 13, tickFormat: d => comma(d, 2), fontSize: 21, fontWeight: "bold", label: null, stroke: "#000", fill: "#000"}),
    Plot.axisY(rightTicks.map(toLeft), {anchor: "right", tickSize: 6, tickPadding: 9, tickFormat: d => comma((d - Y_MIN) / K, 1), fontSize: 21, fontWeight: "bold", label: null, stroke: "#000", fill: "#5f4a7b"}),
    Plot.axisX(d3.range(65), {anchor: "bottom", tickSize: 6, tickPadding: 4, tickRotate: -90, tickFormat: i => xLabels[i], fontSize: 19.5, fontWeight: "bold", label: null, stroke: "#000", fill: "#000"})
  ]
});
document.getElementById("clip").appendChild(chart);

// legend (HTML, above the plot area)
const wrap = document.getElementById("wrap");
function addLegend(items, swX) {
  items.forEach(([name, color, kind], i) => {
    const cy = 12 + 24.3 * i;
    const div = document.createElement("div");
    div.className = "lg";
    div.style.left = swX + "px";
    div.style.top = (cy - 11) + "px";
    div.style.height = "22px";
    const dash = kind === "dash" ? `stroke-dasharray="14,11"` : "";
    div.innerHTML = `<svg width="72" height="22" style="margin-right:5px"><line x1="4" y1="11" x2="68" y2="11" stroke="${color}" stroke-width="7" stroke-linecap="round" ${dash}/></svg><span>${name}</span>`;
    wrap.appendChild(div);
  });
}
addLegend(legendLeft, 372);
addLegend(legendRight, 994);

const t1 = document.createElement("div");
t1.className = "ttl"; t1.textContent = "VARİL/VARİL";
Object.assign(t1.style, {left: "25px", top: "113px", fontSize: "21px", color: "#000"});
wrap.appendChild(t1);
const t2 = document.createElement("div");
t2.className = "ttl"; t2.textContent = "DOLAR/VARİL";
Object.assign(t2.style, {left: "1587px", top: "109px", fontSize: "27px", color: "#5f4a7b"});
wrap.appendChild(t2);
</script>
</body></html>
